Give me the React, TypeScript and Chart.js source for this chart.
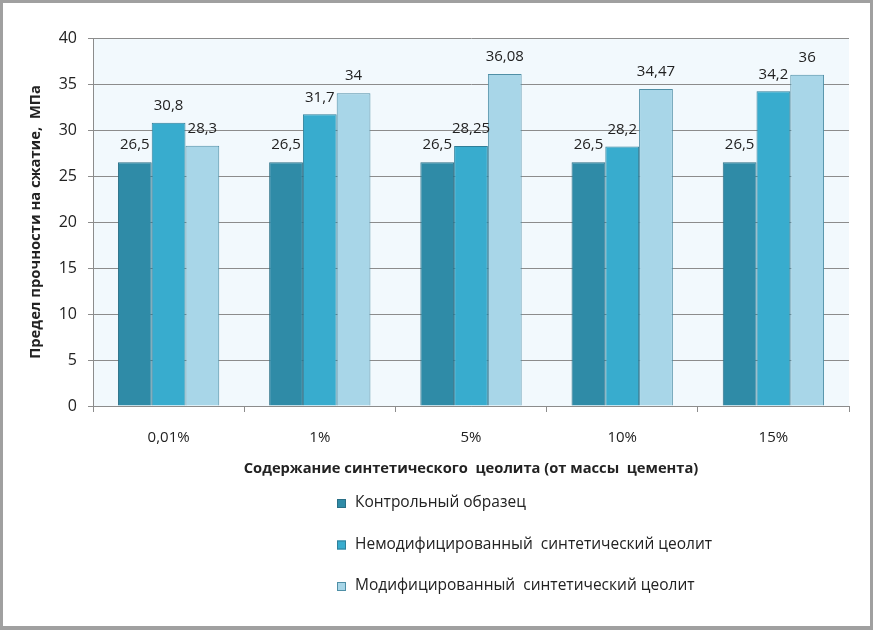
import React, { useEffect, useRef } from "react";
import { Chart, registerables } from "chart.js";

Chart.register(...registerables);

const categories = ["0,01%", "1%", "5%", "10%", "15%"];
const controlValues = [26.5, 26.5, 26.5, 26.5, 26.5];
const unmodifiedValues = [30.8, 31.7, 28.25, 28.2, 34.2];
const modifiedValues = [28.3, 34, 36.08, 34.47, 36];
const seriesNames = [
  "Контрольный образец",
  "Немодифицированный  синтетический цеолит",
  "Модифицированный  синтетический цеолит",
];
const seriesColors = ["#2f8ba7", "#38acce", "#a8d6e8"];
const seriesBorders = ["#2a6f86", "#2f7f99", "#4f8fa6"];
const yTitle = "Предел прочности на сжатие,  МПа";
const xTitle = "Содержание синтетического  цеолита (от массы  цемента)";

const FONT = "'Open Sans', 'Noto Sans', sans-serif";

const plotBg = {
  id: "plotBg",
  beforeDraw(chart: any) {
    const { ctx, chartArea } = chart;
    ctx.save();
    ctx.fillStyle = "#f2f9fd";
    ctx.fillRect(chartArea.left, chartArea.top, chartArea.right - chartArea.left, chartArea.bottom - chartArea.top);
    ctx.restore();
  },
};

const valueLabels = {
  id: "valueLabels",
  afterDatasetsDraw(chart: any) {
    const { ctx } = chart;
    ctx.save();
    ctx.font = `15px ${FONT}`;
    ctx.fillStyle = "#222";
    ctx.textAlign = "center";
    ctx.textBaseline = "middle";
    chart.data.datasets.forEach((ds: any, i: number) => {
      const meta = chart.getDatasetMeta(i);
      meta.data.forEach((bar: any, j: number) => {
        const v = ds.data[j];
        ctx.fillText(String(v).replace(".", ","), bar.x, bar.y - 17);
      });
    });
    ctx.restore();
  },
};

const sideLegend = {
  id: "sideLegend",
  afterDraw(chart: any) {
    const { ctx } = chart;
    ctx.save();
    ctx.font = `15.5px ${FONT}`;
    ctx.textBaseline = "middle";
    ctx.textAlign = "left";
    chart.data.datasets.forEach((ds: any, i: number) => {
      const y = 500 + i * 41.5;
      ctx.fillStyle = ds.backgroundColor;
      ctx.fillRect(334, y - 4, 9, 9);
      ctx.strokeStyle = ds.borderColor;
      ctx.lineWidth = 1;
      ctx.strokeRect(334.5, y - 3.5, 8, 8);
      ctx.fillStyle = "#222";
      ctx.fillText(ds.label, 352, y);
    });
    ctx.restore();
  },
};

export default function App() {
  const ref = useRef<HTMLCanvasElement>(null);
  useEffect(() => {
    const mk = (label: string, data: number[], i: number) => ({
      label,
      data,
      backgroundColor: seriesColors[i],
      borderColor: seriesBorders[i],
      borderWidth: 1,
      categoryPercentage: 0.67,
      barPercentage: 1,
    });
    const chart = new Chart(ref.current!, {
      type: "bar",
      data: {
        labels: categories,
        datasets: [
          mk(seriesNames[0], controlValues, 0),
          mk(seriesNames[1], unmodifiedValues, 1),
          mk(seriesNames[2], modifiedValues, 2),
        ],
      },
      options: {
        animation: false,
        responsive: false,
        layout: { padding: { left: 0, right: 21, top: 35, bottom: 130 } },
        plugins: { legend: { display: false }, tooltip: { enabled: false } },
        scales: {
          x: {
            grid: { drawOnChartArea: false, drawTicks: true, tickLength: 6, color: "#8c8c8c", offset: true },
            border: { display: true, color: "#8c8c8c" },
            ticks: { color: "#222", font: { family: FONT, size: 15 }, padding: 17 },
            title: {
              display: true,
              text: xTitle,
              color: "#222",
              font: { family: FONT, size: 14.7, weight: "bold" },
              padding: { top: 0, bottom: 18 },
            },
            afterFit(scale: any) {
              scale.height = 90;
            },
          },
          y: {
            min: 0,
            max: 40,
            ticks: { stepSize: 5, color: "#222", font: { family: FONT, size: 16 }, padding: 11 },
            grid: { color: "#8c8c8c", tickLength: 5 },
            border: { display: true, color: "#8c8c8c" },
            title: {
              display: true,
              text: yTitle,
              color: "#222",
              font: { family: FONT, size: 14.8, weight: "bold" },
              padding: { top: 24, bottom: 0 },
            },
            afterFit(scale: any) {
              scale.width = 90;
            },
          },
        },
      },
      plugins: [plotBg, valueLabels, sideLegend],
    });
    return () => chart.destroy();
  }, []);
  return (
    <div style={{ position: "fixed", left: 0, top: 0, width: 873, height: 630, background: "#a0a0a0" }}>
      <div style={{ position: "absolute", left: 3, top: 3, width: 867, height: 623, background: "#fff" }}>
        <canvas ref={ref} width={867} height={623} style={{ display: "block", width: 867, height: 623 }} />
      </div>
    </div>
  );
}
